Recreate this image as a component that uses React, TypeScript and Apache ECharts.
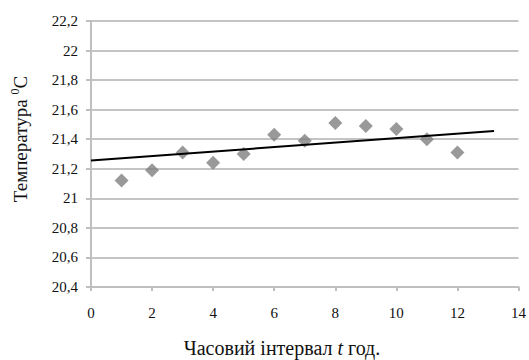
import React, { useEffect, useRef } from "react";
import * as echarts from "echarts";

const hours = [1, 2, 3, 4, 5, 6, 7, 8, 9, 10, 11, 12];
const temperatures = [21.12, 21.19, 21.31, 21.24, 21.3, 21.43, 21.39, 21.51, 21.49, 21.47, 21.4, 21.31];
const trendX = [0, 13.2];
const trendY = [21.256, 21.456];
const yTicks = { min: 20.4, max: 22.2, interval: 0.2 };
const xTicks = { min: 0, max: 14, interval: 2 };
const xTitle = ["Часовий інтервал ", "t", " год."];
const yTitle = ["Температура ", "0", "C"];

const FONT = "Liberation Serif, Times New Roman, serif";

export default function App() {
  const ref = useRef<HTMLDivElement>(null);
  useEffect(() => {
    if (!ref.current) return;
    const chart = echarts.init(ref.current, null, { renderer: "svg" });
    chart.setOption({
      animation: false,
      backgroundColor: "#ffffff",
      grid: { left: 91, right: 8, top: 21, bottom: 73 },
      xAxis: {
        type: "value",
        min: xTicks.min,
        max: xTicks.max,
        interval: xTicks.interval,
        axisLine: { show: true, lineStyle: { color: "#bfbfbf", width: 2 } },
        axisTick: { show: true, length: 4, lineStyle: { color: "#bfbfbf", width: 2 } },
        splitLine: { show: false },
        axisLabel: { color: "#111111", fontFamily: FONT, fontSize: 15, margin: 18 },
      },
      yAxis: {
        type: "value",
        min: yTicks.min,
        max: yTicks.max,
        interval: yTicks.interval,
        axisLine: { show: true, lineStyle: { color: "#bfbfbf", width: 2 } },
        axisTick: { show: true, length: 5, lineStyle: { color: "#bfbfbf", width: 2 } },
        splitLine: { show: true, lineStyle: { color: "#c4c4c4", width: 2 } },
        axisLabel: {
          color: "#111111",
          fontFamily: FONT,
          fontSize: 15,
          margin: 13,
          formatter: (v: number) => String(Number(v.toFixed(1))).replace(".", ","),
        },
      },
      series: [
        {
          type: "scatter",
          data: hours.map((h, i) => [h, temperatures[i]]),
          symbol: "diamond",
          symbolSize: 14,
          itemStyle: { color: "#7f7f7f" },
          z: 3,
        },
        {
          type: "line",
          data: trendX.map((x, i) => [x, trendY[i]]),
          symbol: "none",
          lineStyle: { color: "#000000", width: 2 },
          z: 4,
        },
      ],
      graphic: [
        {
          type: "text",
          x: 282,
          y: 348,
          style: {
            text: `{n|${xTitle[0]}}{i|${xTitle[1]}}{n|${xTitle[2]}}`,
            align: "center",
            verticalAlign: "middle",
            rich: {
              n: { fontFamily: FONT, fontSize: 20, lineHeight: 20, fill: "#111111" },
              i: { fontFamily: FONT, fontSize: 20, lineHeight: 20, fontStyle: "italic", fill: "#111111" },
            },
          },
        },
        {
          type: "text",
          x: 19,
          y: 139,
          rotation: Math.PI / 2,
          style: {
            text: `{n|${yTitle[0]}}{s|${yTitle[1]}}{n|${yTitle[2]}}`,
            align: "center",
            verticalAlign: "middle",
            rich: {
              n: { fontFamily: FONT, fontSize: 19, fill: "#111111", verticalAlign: "bottom" },
              s: { fontFamily: FONT, fontSize: 12, fill: "#111111", verticalAlign: "top", padding: [0, 0, 9, 0] },
            },
          },
        },
      ],
    });
    return () => chart.dispose();
  }, []);
  return <div ref={ref} style={{ position: "fixed", left: 0, top: 0, width: 529, height: 360 }} />;
}
